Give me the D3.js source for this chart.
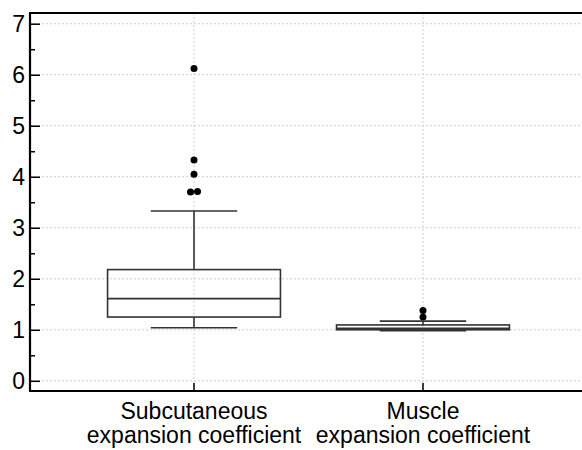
<!DOCTYPE html>
<html>
<head>
<meta charset="utf-8">
<script src="https://cdn.jsdelivr.net/npm/d3@7"></script>
<style>
  html, body { margin: 0; padding: 0; background: #fff; }
  svg { display: block; font-family: "Liberation Sans", Arial, sans-serif; }
</style>
</head>
<body>
<svg id="chart" width="582" height="450"></svg>
<script>
// Group labels (two lines each)
const categories = ["subcutaneous", "muscle"];
const categoryLines = [
  ["Subcutaneous", "expansion coefficient"],
  ["Muscle", "expansion coefficient"]
];

// Box statistics per group
const whiskerLow  = [1.04, 0.98];
const q1          = [1.25, 1.00];
const median      = [1.61, 1.03];
const q3          = [2.18, 1.095];
const whiskerHigh = [3.33, 1.17];

// Outlying observations per group
const outliers = [
  [6.12, 4.33, 4.05, 3.70, 3.71],
  [1.38, 1.25]
];

// Axis ticks
const yMajorTicks = [0, 1, 2, 3, 4, 5, 6, 7];
const yMinorTicks = [0.5, 1.5, 2.5, 3.5, 4.5, 5.5, 6.5];

const width = 582, height = 450;
const margin = { top: 13, right: 0, bottom: 59, left: 30 };
const fontSize = 23;
const svg = d3.select("#chart");

const y = d3.scaleLinear()
  .domain([-0.2, 7.21])
  .range([height - margin.bottom, margin.top]);

const x = d3.scaleBand()
  .domain(categories)
  .range([margin.left + 2, width + 3])
  .paddingInner(0.245)
  .paddingOuter(0.33);

const bw = x.bandwidth();
const cx = c => x(c) + bw / 2;

// Grid
const grid = svg.append("g")
  .attr("stroke", "#cfcfcf")
  .attr("stroke-width", 1)
  .attr("stroke-dasharray", "2,2");
grid.selectAll("line.h").data(yMajorTicks).join("line")
  .attr("class", "h")
  .attr("x1", margin.left).attr("x2", width)
  .attr("y1", d => y(d)).attr("y2", d => y(d));
grid.selectAll("line.v").data(categories).join("line")
  .attr("class", "v")
  .attr("x1", d => cx(d)).attr("x2", d => cx(d))
  .attr("y1", margin.top).attr("y2", height - margin.bottom);

// Boxes
const ink = "#333";
const boxes = svg.append("g")
  .attr("stroke", ink)
  .attr("stroke-width", 1.6)
  .attr("fill", "none");

categories.forEach((c, i) => {
  const g = boxes.append("g");
  const m = cx(c);
  // whisker stems
  g.append("line").attr("x1", m).attr("x2", m)
    .attr("y1", y(q3[i])).attr("y2", y(whiskerHigh[i]));
  g.append("line").attr("x1", m).attr("x2", m)
    .attr("y1", y(q1[i])).attr("y2", y(whiskerLow[i]));
  // whisker caps
  g.append("line").attr("x1", m - bw / 4).attr("x2", m + bw / 4)
    .attr("y1", y(whiskerHigh[i])).attr("y2", y(whiskerHigh[i]));
  g.append("line").attr("x1", m - bw / 4).attr("x2", m + bw / 4)
    .attr("y1", y(whiskerLow[i])).attr("y2", y(whiskerLow[i]));
  // box and median
  g.append("rect")
    .attr("x", x(c)).attr("width", bw)
    .attr("y", y(q3[i])).attr("height", y(q1[i]) - y(q3[i]));
  g.append("line").attr("x1", x(c)).attr("x2", x(c) + bw)
    .attr("y1", y(median[i])).attr("y2", y(median[i]));
});

// Outlier dots; near-identical values are nudged apart horizontally
const dots = [];
outliers.forEach((vals, i) => {
  vals.forEach((v, j) => {
    const twin = vals.findIndex((w, k) => k !== j && Math.abs(w - v) < 0.05);
    let dx = 0;
    if (twin >= 0) dx = j < twin ? -3.5 : 3.5;
    dots.push({ c: categories[i], v, dx });
  });
});
svg.append("g").selectAll("circle").data(dots).join("circle")
  .attr("cx", d => cx(d.c) + d.dx)
  .attr("cy", d => y(d.v))
  .attr("r", 3.5)
  .attr("fill", "#000");

// Y axis: major ticks with labels, minor ticks without, both pointing inward
const yAxis = svg.append("g")
  .attr("transform", `translate(${margin.left},0)`)
  .call(d3.axisLeft(y).tickValues(yMajorTicks).tickSize(-10).tickPadding(5).tickFormat(d3.format("d")));
yAxis.select(".domain").remove();
yAxis.selectAll(".tick line").attr("stroke", "#000").attr("stroke-width", 1.5);
yAxis.selectAll(".tick text")
  .attr("font-size", fontSize)
  .attr("font-family", "'Liberation Sans', Arial, sans-serif")
  .attr("fill", "#000");

const yMinor = svg.append("g")
  .attr("transform", `translate(${margin.left},0)`)
  .call(d3.axisLeft(y).tickValues(yMinorTicks).tickSize(-5).tickFormat(""));
yMinor.select(".domain").remove();
yMinor.selectAll(".tick line").attr("stroke", "#000").attr("stroke-width", 1.5);

// X axis: inward ticks, two-line labels
const xAxis = svg.append("g")
  .attr("transform", `translate(0,${height - margin.bottom})`)
  .call(d3.axisBottom(x).tickSize(-8).tickFormat(""));
xAxis.select(".domain").remove();
xAxis.selectAll(".tick line").attr("stroke", "#000").attr("stroke-width", 1.5);
xAxis.selectAll(".tick").each(function(d, i) {
  const t = d3.select(this).append("text")
    .attr("text-anchor", "middle")
    .attr("font-size", fontSize)
    .attr("font-family", "'Liberation Sans', Arial, sans-serif")
    .attr("fill", "#000");
  categoryLines[i].forEach((line, k) => {
    t.append("tspan").attr("x", 0).attr("y", 28 + k * 24).text(line);
  });
});

// Frame: left, bottom and top lines
const frame = svg.append("g").attr("stroke", "#000").attr("stroke-width", 2.2);
frame.append("line")
  .attr("x1", margin.left).attr("x2", margin.left)
  .attr("y1", margin.top).attr("y2", height - margin.bottom);
frame.append("line")
  .attr("x1", margin.left - 1).attr("x2", width)
  .attr("y1", height - margin.bottom).attr("y2", height - margin.bottom);
frame.append("line")
  .attr("x1", margin.left - 1).attr("x2", width)
  .attr("y1", margin.top).attr("y2", margin.top);
</script>
</body>
</html>
